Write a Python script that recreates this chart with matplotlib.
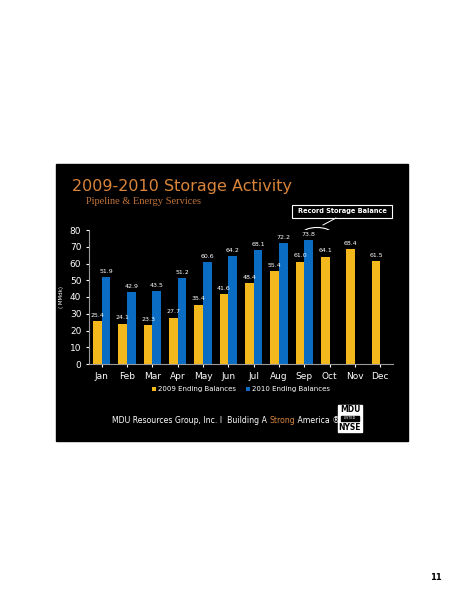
import matplotlib
matplotlib.use("Agg")
import matplotlib.pyplot as plt
import numpy as np
from matplotlib.patches import Rectangle, Ellipse

months = ["Jan","Feb","Mar","Apr","May","Jun","Jul","Aug","Sep","Oct","Nov","Dec"]
s2009 = [25.4,24.1,23.3,27.7,35.4,41.6,48.4,55.4,61.0,64.1,68.4,61.5]
s2010 = [51.9,42.9,43.5,51.2,60.6,64.2,68.1,72.2,73.8]
yticks = [0,10,20,30,40,50,60,70,80]

W,H = 464,600
fig = plt.figure(figsize=(W/100,H/100), dpi=100)
fig.patch.set_facecolor("white")
bg = fig.add_axes([0,0,1,1]); bg.set_xlim(0,W); bg.set_ylim(H,0); bg.axis("off")
bg.add_patch(Rectangle((56,164),352,277,color="black"))
bg.text(72,187,"2009-2010 Storage Activity",color="#D9843A",fontsize=11.5,va="center")
bg.text(86,201,"Pipeline & Energy Services",color="#C0733A",fontsize=7.5,family="Liberation Serif",va="center")
bg.add_patch(Rectangle((292,205),100,13,facecolor="black",edgecolor="white",lw=0.8))
bg.text(342,211.5,"Record Storage Balance",color="white",fontsize=4.8,weight="bold",ha="center",va="center")
bg.plot([336,323],[218,225],color="white",lw=0.7)
bg.add_patch(Ellipse((317,233),28,11,fill=False,edgecolor="white",lw=0.8))
t1 = bg.text(112,423,"MDU Resources Group, Inc. I  Building A ",color="white",fontsize=5.6,va="baseline")
t2 = bg.annotate("Strong",xy=(1,0),xycoords=t1,color="#D9843A",fontsize=5.6,va="bottom")
t3 = bg.annotate(" America ®",xy=(1,0),xycoords=t2,color="white",fontsize=5.6,va="bottom")
bg.add_patch(Rectangle((338,405),24,27,color="white"))
bg.text(350,410,"MDU",fontsize=5.5,weight="bold",ha="center",va="center")
bg.add_patch(Rectangle((341,415.5),18,5,color="black"))
bg.text(350,418,"LISTED",fontsize=2.5,color="white",ha="center",va="center")
bg.text(350,427,"NYSE",fontsize=5.5,weight="bold",ha="center",va="center")
bg.text(442,578,"11",fontsize=6,weight="bold",ha="right",va="center")

ax = fig.add_axes([89/W,1-364/H,304/W,134/H])
ax.set_facecolor("black")
x = np.arange(len(months)); w=0.34
ax.bar(x-w/2, s2009, w, color="#F2B81C", label="2009 Ending Balances")
x2 = x[:len(s2010)]+w/2
ax.bar(x2, s2010, w, color="#0B6CC4", label="2010 Ending Balances")
for xi,v in zip(x-w/2,s2009):
    ax.text(xi,v+2,f"{v:.1f}",color="white",fontsize=4.5,ha="center",va="bottom")
for xi,v in zip(x2,s2010):
    ax.text(xi,v+2,f"{v:.1f}",color="white",fontsize=4.5,ha="center",va="bottom")
ax.set_xlim(-0.5,11.5); ax.set_ylim(0,80); ax.set_yticks(yticks)
ax.set_xticks(x); ax.set_xticklabels(months)
ax.tick_params(colors="white",labelsize=6.5,length=2)
for s in ["top","right"]: ax.spines[s].set_visible(False)
for s in ["left","bottom"]: ax.spines[s].set_color("#999999")
ax.set_ylabel("( MMdk)",color="white",fontsize=4)
ax.legend(loc="upper center",bbox_to_anchor=(0.5,-0.12),ncol=2,frameon=False,fontsize=5,
          handlelength=0.6,handleheight=0.6,labelcolor="white",columnspacing=1.5,handletextpad=0.3)
fig.savefig("out.png",dpi=100,facecolor="white")
